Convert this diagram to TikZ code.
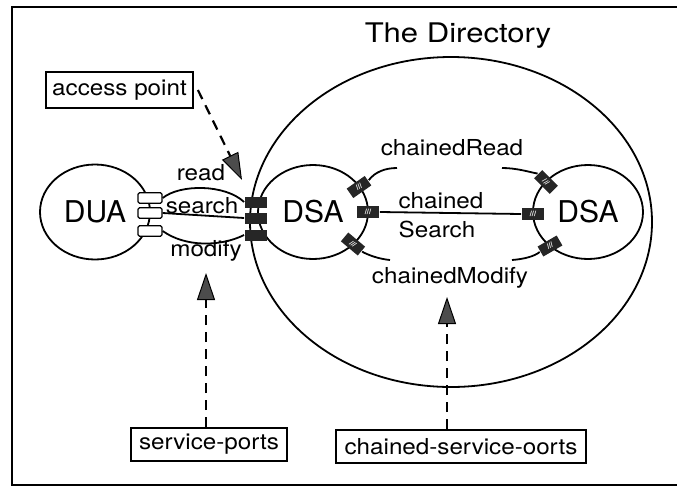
\documentclass[tikz,border=0pt]{standalone}
\usepackage{fontspec}
\setmainfont{TeX Gyre Heros}
\newfontfamily\labfont[FakeStretch=1.1]{TeX Gyre Heros}
\newfontfamily\titlefont[FakeStretch=1.15]{TeX Gyre Heros}
\usetikzlibrary{shapes.geometric,arrows.meta}
\begin{document}
\begin{tikzpicture}[x=1pt,y=-1pt,
  line width=1.8pt,
  oval/.style={draw, ellipse, inner sep=0pt, font=\fontsize{30}{32}\selectfont},
  lbl/.style={inner sep=0pt, font=\labfont\fontsize{22}{24}\selectfont},
  tagbox/.style={draw, line width=1.8pt, inner sep=0pt, minimum height=33pt,
    font=\labfont\fontsize{22}{24}\selectfont},
  uport/.style={draw, fill=white, rounded corners=1.5pt, line width=1.4pt,
    minimum width=24pt, minimum height=10.5pt, inner sep=0pt},
  sport/.style={fill=black!85, minimum width=22pt, minimum height=11pt, inner sep=0pt},
  cport/.style={fill=black!85, minimum width=22pt, minimum height=11.5pt, inner sep=0pt,
    text=white, font=\fontsize{7.5}{7.5}\selectfont\bfseries},
  hint/.style={line width=2.2pt, dash pattern=on 10pt off 7pt,
    -{Triangle[length=27pt,width=18pt,line width=1pt,fill=black!70]}},
]
\useasboundingbox (0,0) rectangle (677,488);

% frame (open on the right)
\draw (677,7) -- (12,7) -- (12,485) -- (677,485);

% the directory and its agents
\node[oval, minimum width=402pt, minimum height=330pt] (dir) at (451,222) {};
\node[inner sep=0pt, anchor=base, font=\titlefont\fontsize{27}{30}\selectfont]
  (dirtitle) at (458,42) {The Directory};
\node[oval, minimum width=110pt, minimum height=95pt] (dua) at (95,212) {DUA};
\node[oval, minimum width=110pt, minimum height=94pt] (dsa1) at (313,212) {DSA};
\node[oval, minimum width=110pt, minimum height=94pt] (dsa2) at (588,212) {DSA};

% service ports: DUA side and DSA side
\node[uport] (u1) at (150,198) {};
\node[uport] (u2) at (150,213) {};
\node[uport] (u3) at (150,231) {};
\node[sport] (s1) at (256,202) {};
\node[sport] (s2) at (256,218) {};
\node[sport] (s3) at (256,235) {};

% chained service ports between the two DSAs
\node[cport, rotate=35]  (c1) at (359,187) {///};
\node[cport]             (c2) at (368,212) {///};
\node[cport, rotate=-40] (c3) at (353,244) {///};
\node[cport, rotate=-45] (c4) at (546,182) {///};
\node[cport]             (c5) at (533,214) {///};
\node[cport, rotate=30]  (c6) at (550,246) {///};

% DUA -- DSA bindings
\draw (u1.east) .. controls (180,184) and (225,184) .. (s1.west);
\draw (u2.east) -- (s2.west);
\draw (u3.east) .. controls (185,247) and (220,247) .. (s3.west);

% DSA -- DSA chained bindings
\coordinate (cr1) at (397,168);
\coordinate (cr2) at (502,168);
\coordinate (cm1) at (390,260);
\coordinate (cm2) at (512,260);
\draw (c1.east) .. controls (375,172) and (385,168) .. (cr1);
\draw (cr2) .. controls (517,168) and (529,172) .. (c4.west);
\draw (c2.east) -- (c5.west);
\draw (c3.east) .. controls (368,255) and (379,259) .. (cm1);
\draw (cm2) .. controls (525,259) and (535,256) .. (c6.west);

% operation labels
\node[lbl, anchor=base] (lread)   at (201,180) {read};
\node[lbl, anchor=base] (lsearch) at (202,213) {search};
\node[lbl, anchor=base] (lmodify) at (206,256) {modify};
\node[lbl, anchor=base] (lcr)  at (452,155) {chainedRead};
\node[lbl, anchor=base] (lcs1) at (441,208) {chained};
\node[lbl, anchor=base] (lcs2) at (437,237) {Search};
\node[lbl, anchor=base] (lcm)  at (450,283) {chainedModify};

% callouts
\node[tagbox, minimum width=147pt, minimum height=36pt] (ap) at (119.5,90) {access point};
\node[tagbox, minimum width=156pt] (sp)  at (209,444.5) {service-ports};
\node[tagbox, minimum width=250pt] (csp) at (461,446.5) {chained-service-oorts};

\coordinate (apTip)  at (242,180);
\coordinate (spTip)  at (206,273);
\coordinate (cspTip) at (447,297);
\draw[hint] ([xshift=4pt]ap.east) -- (apTip);
\draw[hint] (spTip |- sp.north) -- (spTip);
\draw[hint] (cspTip |- csp.north) -- (cspTip);
\end{tikzpicture}
\end{document}
